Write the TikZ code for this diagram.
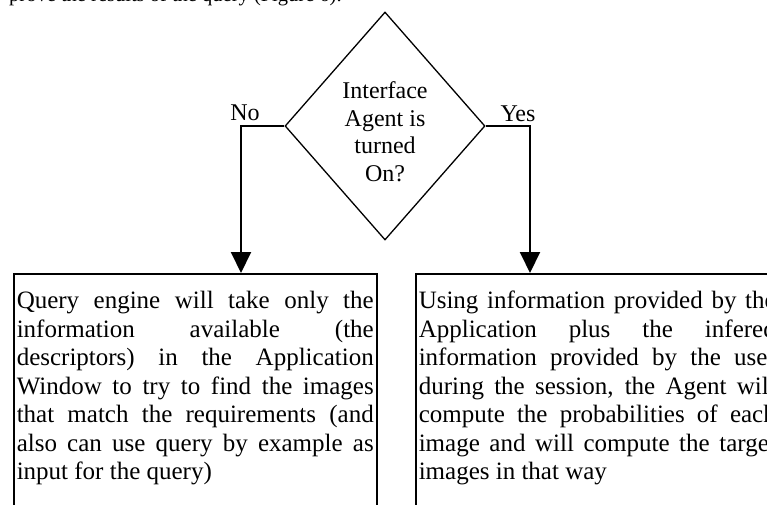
\documentclass[tikz,border=0pt]{standalone}
\usepackage{fontspec}
\setmainfont{Liberation Serif}
\usetikzlibrary{shapes.geometric,arrows.meta}
\tolerance=10000
\hbadness=10000

\begin{document}
\begin{tikzpicture}[x=1pt,y=-1pt,
    flow/.style={line width=2pt,-{Triangle[length=21pt,width=20pt]}},
    answer/.style={draw,line width=1.5pt,anchor=north west,text width=357pt,
      inner xsep=3pt,inner ysep=15pt,align=justify,
      font=\fontsize{25}{28.5}\selectfont},
    anslab/.style={anchor=base,inner sep=0pt,font=\fontsize{24}{27.5}\selectfont}]
  \useasboundingbox (0,0) rectangle (767,505);
  \fill[white] (0,0) rectangle (767,505);
  \clip (0,0) rectangle (767,505);
  % line of the page above the figure, cut by the frame
  \node[anchor=base west,inner sep=0pt] (T) at (9,1.5)
    {\fontsize{20.5}{24}\selectfont prove the results of the query (Figure 6).};
  \node[diamond,draw,line width=1.3pt,minimum width=200pt,minimum height=228pt,
    inner sep=0pt,align=center,font=\fontsize{24}{27.5}\selectfont] (Q) at (385,126)
    {\rule{0pt}{28pt}Interface\\Agent is\\turned\\On?};
  \node[answer] (N) at (13,273)
    {\strut Query engine will take only the\linebreak
     information available (the\linebreak
     descriptors) in the Application\linebreak
     Window to try to find the images\linebreak
     that match the requirements (and\linebreak
     also can use query by example as\linebreak
     input for the query)\par\rule{0pt}{80pt}};
  \node[answer] (Y) at (415,273)
    {\strut Using information provided by the\linebreak
     Application plus the infered\linebreak
     information provided by the user\linebreak
     during the session, the Agent will\linebreak
     compute the probabilities of each\linebreak
     image and will compute the target\linebreak
     images in that way\par\rule{0pt}{80pt}};
  \coordinate (nobend) at (241,126);
  \coordinate (yesbend) at (530,126);
  \draw[flow] (Q.west) -- (nobend) -- (nobend |- N.north);
  \draw[flow] (Q.east) -- (yesbend) -- (yesbend |- Y.north);
  \node[anslab] (Nl) at (245,121) {No};
  \node[anslab] (Yl) at (518,121.5) {Yes};
\end{tikzpicture}
\end{document}
